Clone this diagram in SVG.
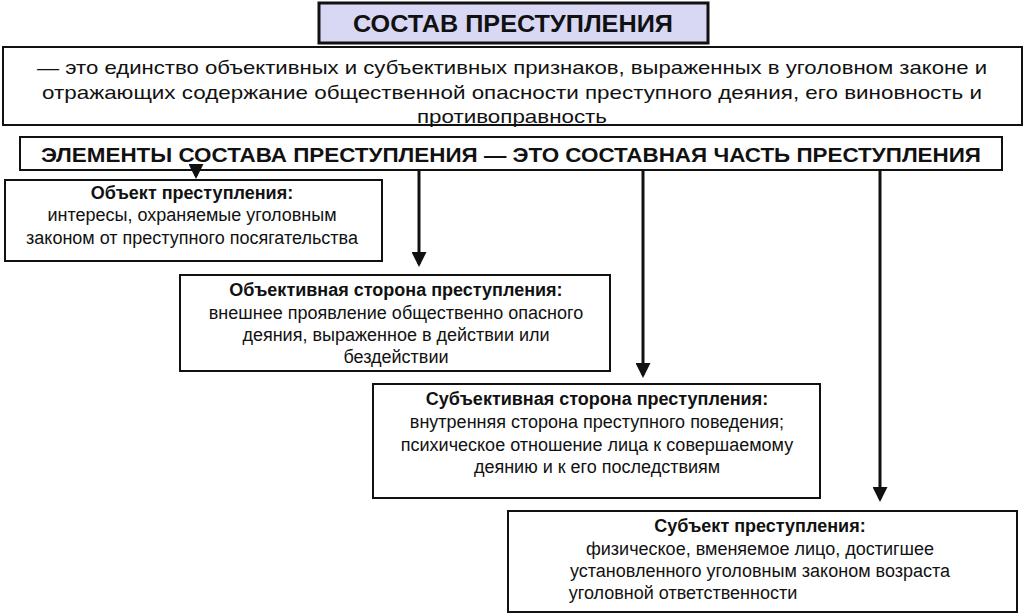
<svg xmlns="http://www.w3.org/2000/svg" width="1024" height="615" viewBox="0 0 1024 615">
<style>
text{font-family:"Liberation Sans",Arial,sans-serif;fill:#111;text-anchor:middle}
.box{fill:#fff;stroke:#111;stroke-width:2}
.t{font-size:18px}
.b{font-weight:bold}
.ln{stroke:#111;stroke-width:3}
</style>
<defs><marker id="ah" markerWidth="5" markerHeight="5" refX="4" refY="2.5" orient="auto" markerUnits="strokeWidth"><path d="M0,0L5,2.5L0,5z" fill="#111"/></marker></defs>
<rect width="1024" height="615" fill="#fff"/>
<g id="title"><rect x="319" y="3" width="389" height="40" fill="#d8d8f4" stroke="#111" stroke-width="3"/>
<text x="513" y="32" font-size="24" class="b" textLength="320" lengthAdjust="spacingAndGlyphs">СОСТАВ ПРЕСТУПЛЕНИЯ</text></g>
<g id="definition"><rect class="box" x="3" y="47" width="1019" height="78"/>
<text x="512" y="74" font-size="19" textLength="950" lengthAdjust="spacingAndGlyphs">— это единство объективных и субъективных признаков, выраженных  в уголовном законе и</text>
<text x="512" y="99" font-size="19" textLength="940" lengthAdjust="spacingAndGlyphs">отражающих содержание общественной опасности преступного деяния, его виновность и</text>
<text x="512" y="123" font-size="19" textLength="190" lengthAdjust="spacingAndGlyphs">противоправность</text></g>
<g id="elements"><rect class="box" x="20" y="137" width="982" height="33"/>
<text x="511" y="162" font-size="20" class="b" textLength="940" lengthAdjust="spacingAndGlyphs">ЭЛЕМЕНТЫ СОСТАВА ПРЕСТУПЛЕНИЯ — ЭТО СОСТАВНАЯ ЧАСТЬ ПРЕСТУПЛЕНИЯ</text></g>
<g id="connectors">
<line class="ln" x1="196" y1="170" x2="196" y2="176" marker-end="url(#ah)"/>
<line class="ln" x1="419" y1="170" x2="419" y2="264" marker-end="url(#ah)"/>
<line class="ln" x1="643" y1="170" x2="643" y2="375" marker-end="url(#ah)"/>
<line class="ln" x1="880" y1="170" x2="880" y2="499" marker-end="url(#ah)"/>
</g>
<g id="object"><rect class="box" x="5" y="180" width="377" height="81"/>
<text x="192" y="199" class="t b">Объект преступления:</text>
<text x="192" y="221" class="t">интересы, охраняемые уголовным</text>
<text x="192" y="244" class="t">законом от преступного посягательства</text></g>
<g id="objside"><rect class="box" x="180" y="275" width="430" height="96"/>
<text x="396" y="296" class="t b">Объективная сторона преступления:</text>
<text x="396" y="319" class="t">внешнее проявление общественно опасного</text>
<text x="396" y="341" class="t">деяния, выраженное в действии или</text>
<text x="396" y="363" class="t">бездействии</text></g>
<g id="subjside"><rect class="box" x="373" y="384" width="447" height="114"/>
<text x="597" y="405" class="t b">Субъективная сторона преступления:</text>
<text x="597" y="428" class="t">внутренняя сторона преступного поведения;</text>
<text x="597" y="451" class="t">психическое отношение лица к совершаемому</text>
<text x="597" y="473" class="t">деянию и к его последствиям</text></g>
<g id="subject"><rect class="box" x="508" y="511" width="509" height="101"/>
<text x="760" y="532" class="t b">Субъект преступления:</text>
<text x="760" y="555" class="t">физическое, вменяемое лицо, достигшее</text>
<text x="760" y="577" class="t">установленного уголовным законом возраста</text>
<text x="683" y="599" class="t">уголовной ответственности</text></g>
</svg>
